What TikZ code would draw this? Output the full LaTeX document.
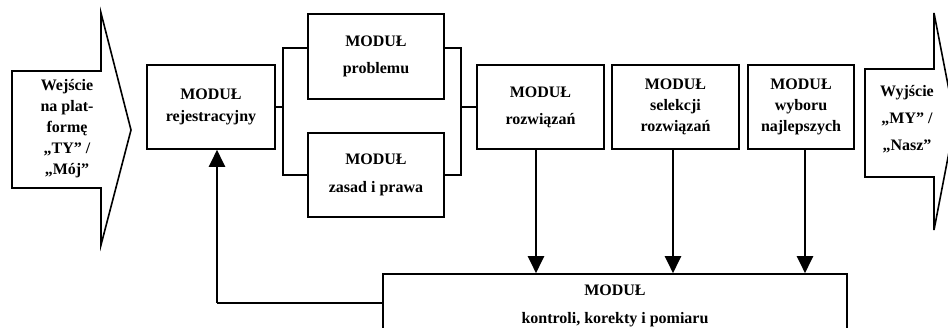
\documentclass[tikz,border=0pt]{standalone}
\usepackage{fontspec}
\setmainfont{Liberation Serif}
\usetikzlibrary{arrows.meta}
\tikzset{
  box/.style={draw, line width=1.6pt, inner sep=0pt, align=center,
    font=\fontsize{16}{#1}\selectfont\bfseries},
  box/.default=22,
  txt/.style={inner sep=0pt, align=center, font=\fontsize{16}{#1}\selectfont\bfseries},
  txt/.default=21,
  shapeline/.style={line width=1.6pt, line join=miter},
  conn/.style={line width=1.6pt},
  arr/.style={line width=2.2pt, -{Triangle[width=16pt,length=17pt]}}
}
\begin{document}
\begin{tikzpicture}[x=1pt,y=-1pt]
\clip (0,0) rectangle (948,328);
\fill[white] (0,0) rectangle (948,328);
% input arrow
\draw[shapeline] (12,71) -- (101,71) -- (101,13) -- (131,130) -- (101,245) -- (101,188) -- (12,188) -- cycle;
\node[txt=21] (inp) at (67,129) {Wejście\\na plat-\\formę\\„TY” /\\„Mój”};
% output arrow
\draw[shapeline] (865,69) -- (934,69) -- (934,13) -- (955,121) -- (934,230) -- (934,177) -- (865,177) -- cycle;
\node[txt=27] (out) at (907,119) {Wyjście\\„MY” /\\„Nasz”};
% modules
\node[box=22, minimum width=128, minimum height=84] (reg) at (211,107) {MODUŁ\\rejestracyjny};
\node[box=27, minimum width=136, minimum height=85] (prob) at (376,56.5) {MODUŁ\\problemu};
\node[box=28, minimum width=136, minimum height=84] (zas) at (376,175) {MODUŁ\\zasad i prawa};
\node[box=27, minimum width=127, minimum height=84] (rozw) at (540.5,107) {MODUŁ\\rozwiązań};
\node[box=21, minimum width=127, minimum height=84] (sel) at (675.5,107) {MODUŁ\\selekcji\\rozwiązań};
\node[box=21, minimum width=106, minimum height=84] (wyb) at (801,107) {MODUŁ\\wyboru\\najlepszych};
\node[box=28, minimum width=464, minimum height=64] (kont) at (615,306) {MODUŁ\\kontroli, korekty i pomiaru};
% brackets
\coordinate (bl) at (283,107);
\coordinate (br) at (461,107);
\draw[conn] (reg.east) -- (bl);
\draw[conn] ([yshift=8.5pt]prob.west) -| (bl) |- (zas.west);
\draw[conn] ([yshift=8.5pt]prob.east) -| (br) |- (zas.east);
\draw[conn] (br) -- (rozw.west);
% arrows down
\draw[arr] ([xshift=-4.5pt]rozw.south) -- ([xshift=-4.5pt]rozw.south |- kont.north);
\draw[arr] ([xshift=-2.5pt]sel.south) -- ([xshift=-2.5pt]sel.south |- kont.north);
\draw[arr] ([xshift=4pt]wyb.south) -- ([xshift=4pt]wyb.south |- kont.north);
% feedback
\draw[conn] ([yshift=3pt]kont.west) -- ([yshift=3pt]kont.west -| 217,0) coordinate (fb);
\draw[arr] (fb) -- ([xshift=6pt]reg.south);
\end{tikzpicture}
\end{document}
